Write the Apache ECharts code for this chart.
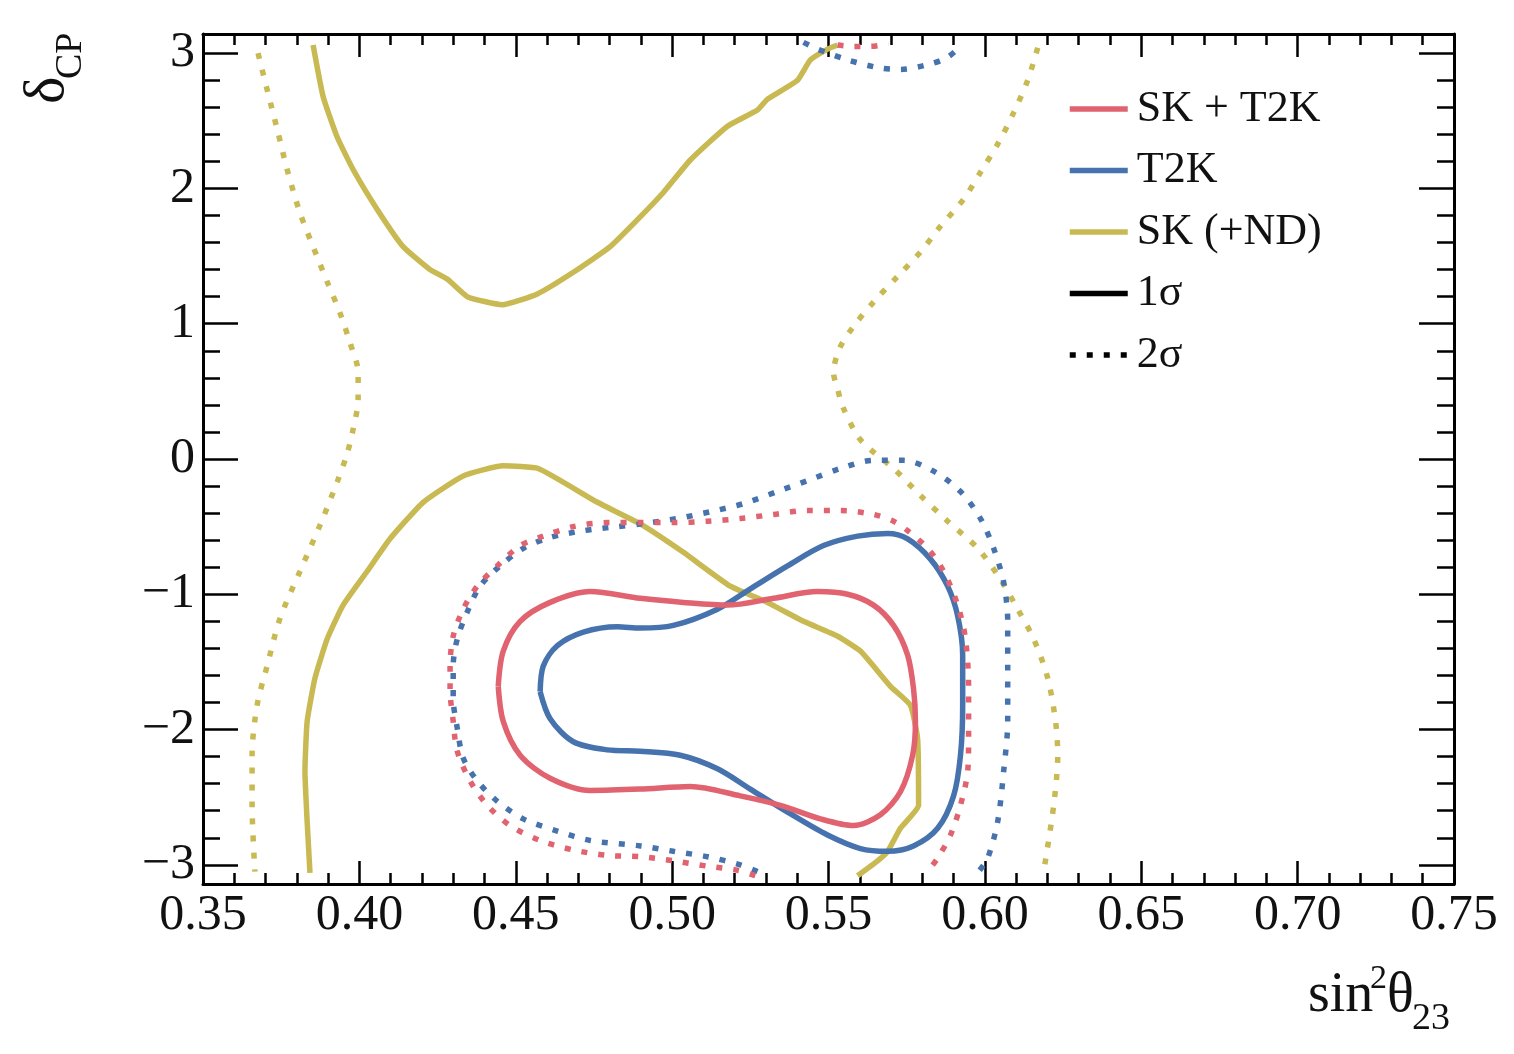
<!DOCTYPE html>
<html>
<head>
<meta charset="utf-8">
<script src="https://cdn.jsdelivr.net/npm/echarts@6/dist/echarts.min.js"></script>
<style>
  html, body { margin: 0; padding: 0; background: #fff; }
  #chart { width: 1514px; height: 1054px; }
</style>
</head>
<body>
<div id="chart"></div>
<script>
// axis ticks
var xTicks = [0.35, 0.40, 0.45, 0.50, 0.55, 0.60, 0.65, 0.70, 0.75];
var yTicks = [-3, -2, -1, 0, 1, 2, 3];

// contours, [sin^2 theta23, deltaCP]
// SK + T2K
var skt2k1 = [[0.4444,-1.68],[0.446,-1.42],[0.4514,-1.20],[0.461,-1.06],[0.4738,-0.98],[0.4898,-1.03],[0.5036,-1.06],[0.5177,-1.08],[0.5324,-1.03],[0.5465,-0.98],[0.5561,-1.00],[0.5644,-1.08],[0.5708,-1.23],[0.5753,-1.45],[0.5772,-1.70],[0.5778,-1.94],[0.5769,-2.19],[0.573,-2.46],[0.5666,-2.63],[0.558,-2.71],[0.5474,-2.66],[0.5346,-2.56],[0.5218,-2.49],[0.5058,-2.42],[0.4898,-2.44],[0.4738,-2.45],[0.461,-2.36],[0.4514,-2.19],[0.446,-1.94],[0.4444,-1.68]];
var skt2k2 = [[0.5266,-3.08],[0.5209,-3.04],[0.5113,-3.01],[0.5004,-2.97],[0.4898,-2.94],[0.4793,-2.93],[0.4684,-2.89],[0.4578,-2.82],[0.4482,-2.71],[0.4409,-2.56],[0.4354,-2.38],[0.4313,-2.16],[0.43,-1.94],[0.429,-1.70],[0.429,-1.53],[0.43,-1.31],[0.4332,-1.11],[0.4377,-0.94],[0.4441,-0.79],[0.4514,-0.64],[0.4588,-0.57],[0.4684,-0.50],[0.4793,-0.47],[0.4898,-0.47],[0.5004,-0.47],[0.5113,-0.46],[0.5218,-0.44],[0.5324,-0.41],[0.5433,-0.38],[0.5538,-0.38],[0.5644,-0.41],[0.5708,-0.46],[0.5753,-0.53],[0.5817,-0.66],[0.5868,-0.83],[0.5913,-1.08],[0.5938,-1.33],[0.5948,-1.70],[0.5948,-2.07],[0.5945,-2.31],[0.5922,-2.56],[0.589,-2.78],[0.5849,-2.95],[0.5817,-3.05]];
var skt2k2Top = [[0.5529,3.06],[0.558,3.05],[0.5634,3.05],[0.5692,3.07]];
// T2K
var t2k1 = [[0.4578,-1.72],[0.4588,-1.53],[0.4633,-1.38],[0.4716,-1.28],[0.4825,-1.24],[0.4898,-1.25],[0.5004,-1.23],[0.5145,-1.11],[0.525,-0.96],[0.5369,-0.79],[0.5484,-0.64],[0.5593,-0.57],[0.5689,-0.55],[0.5753,-0.59],[0.5826,-0.74],[0.5881,-0.94],[0.5913,-1.16],[0.5929,-1.45],[0.5929,-1.82],[0.5922,-2.19],[0.59,-2.49],[0.5849,-2.73],[0.5772,-2.86],[0.5689,-2.90],[0.5602,-2.88],[0.5497,-2.78],[0.5369,-2.61],[0.525,-2.44],[0.5145,-2.29],[0.5026,-2.19],[0.4898,-2.16],[0.4793,-2.15],[0.4684,-2.09],[0.461,-1.92],[0.4578,-1.72]];
var t2k2 = [[0.5273,-3.05],[0.5218,-3.00],[0.5113,-2.94],[0.5004,-2.90],[0.4898,-2.86],[0.4738,-2.82],[0.4633,-2.75],[0.4524,-2.66],[0.4441,-2.53],[0.4377,-2.38],[0.4332,-2.21],[0.4313,-1.99],[0.43,-1.77],[0.43,-1.53],[0.4313,-1.33],[0.4345,-1.13],[0.4386,-0.94],[0.445,-0.79],[0.4524,-0.66],[0.461,-0.58],[0.4716,-0.53],[0.4825,-0.50],[0.4898,-0.48],[0.5017,-0.44],[0.5122,-0.39],[0.5228,-0.33],[0.5337,-0.24],[0.5433,-0.16],[0.5538,-0.07],[0.5644,-0.01],[0.574,-0.01],[0.5836,-0.09],[0.5922,-0.24],[0.5986,-0.44],[0.6028,-0.66],[0.606,-0.91],[0.6073,-1.20],[0.6073,-1.57],[0.6073,-1.94],[0.606,-2.31],[0.6041,-2.68],[0.6009,-2.95],[0.598,-3.05]];
var t2k2Top = [[0.542,3.08],[0.5465,3.03],[0.5561,2.95],[0.5666,2.89],[0.573,2.88],[0.5826,2.92],[0.5881,2.97],[0.5922,3.05]];
// SK (+ND)
var sk1Upper = [[0.3852,3.06],[0.3884,2.68],[0.3929,2.38],[0.398,2.14],[0.4057,1.845],[0.414,1.57],[0.4226,1.40],[0.4281,1.33],[0.4345,1.20],[0.4457,1.14],[0.4569,1.22],[0.4684,1.38],[0.4802,1.57],[0.4898,1.79],[0.4972,1.97],[0.5058,2.21],[0.5177,2.46],[0.5273,2.58],[0.5305,2.66],[0.5401,2.80],[0.5442,2.95],[0.5497,3.03],[0.5529,3.06]];
var sk1Lower = [[0.3842,-3.06],[0.3833,-2.68],[0.3826,-2.31],[0.3833,-1.94],[0.3858,-1.62],[0.3897,-1.33],[0.3948,-1.08],[0.4025,-0.83],[0.4098,-0.59],[0.4204,-0.32],[0.4332,-0.125],[0.446,-0.05],[0.4572,-0.07],[0.4761,-0.32],[0.4898,-0.48],[0.5036,-0.69],[0.5186,-0.94],[0.5305,-1.06],[0.542,-1.20],[0.5529,-1.31],[0.5602,-1.42],[0.5698,-1.68],[0.5762,-1.82],[0.5785,-2.07],[0.5788,-2.56],[0.573,-2.73],[0.5689,-2.90],[0.5657,-2.97],[0.5593,-3.08]];
var sk2Left = [[0.3676,3.00],[0.3705,2.73],[0.3737,2.44],[0.3769,2.14],[0.381,1.82],[0.3852,1.57],[0.3897,1.31],[0.3938,1.08],[0.397,0.86],[0.3996,0.64],[0.3996,0.44],[0.398,0.22],[0.3961,0.04],[0.3929,-0.17],[0.3874,-0.49],[0.381,-0.83],[0.3746,-1.18],[0.3705,-1.53],[0.3673,-1.82],[0.3657,-2.19],[0.3657,-2.56],[0.3666,-3.05]];
var sk2Right = [[0.6169,3.04],[0.6137,2.80],[0.6092,2.56],[0.6044,2.34],[0.5986,2.12],[0.5932,1.92],[0.5858,1.72],[0.5794,1.53],[0.5721,1.35],[0.5644,1.16],[0.558,0.98],[0.5538,0.83],[0.5516,0.64],[0.5529,0.52],[0.5545,0.39],[0.5593,0.17],[0.5634,0.07],[0.5708,-0.07],[0.5794,-0.27],[0.5881,-0.46],[0.5977,-0.66],[0.605,-0.89],[0.6105,-1.11],[0.6156,-1.33],[0.6201,-1.62],[0.6226,-1.94],[0.6233,-2.19],[0.622,-2.56],[0.6188,-3.05]];

var legendNames = ['SK + T2K', 'T2K', 'SK (+ND)', '1\u03c3', '2\u03c3'];

var RED = '#e0636f', BLUE = '#4672ae', GOLD = '#c8b952';
var FONT = '"Liberation Serif", "DejaVu Serif", serif';
var DOTS = [6, 11];

var chart = echarts.init(document.getElementById('chart'));

// minor ticks on y, 0.2 apart between the integer ticks
var yMinor = [];
for (var i = 0; i < yTicks.length - 1; i++) {
    for (var k = 1; k < 5; k++) {
        yMinor.push(Math.round((yTicks[i] + k * 0.2) * 10) / 10);
    }
}

function fmtY(v) {
    return v < 0 ? '\u2212' + Math.abs(v) : String(v);
}

function xAxisOpt(pos, labels) {
    return {
        type: 'value', position: pos, min: xTicks[0], max: xTicks[xTicks.length - 1], interval: 0.05,
        axisLine: { onZero: false, lineStyle: { color: '#000', width: 3 } },
        axisTick: { inside: true, length: 23, lineStyle: { color: '#000', width: 2.5 } },
        minorTick: { show: true, splitNumber: 5, length: 11, lineStyle: { color: '#000', width: 2.5 } },
        axisLabel: {
            show: labels, margin: 7, fontFamily: FONT, fontSize: 50, color: '#111',
            formatter: function (v) { return v.toFixed(2); }
        },
        splitLine: { show: false }
    };
}

function yAxisOpt(pos, ticks, len, line, labels) {
    return {
        type: 'value', position: pos, min: -Math.PI, max: Math.PI,
        axisLine: { show: line, onZero: false, lineStyle: { color: '#000', width: 3 } },
        axisTick: { show: true, inside: true, length: len, customValues: ticks, lineStyle: { color: '#000', width: 2.5 } },
        axisLabel: {
            show: labels, customValues: yTicks, margin: 8, fontFamily: FONT, fontSize: 50, color: '#111',
            formatter: fmtY
        },
        splitLine: { show: false }
    };
}

function contour(name, data, color, dotted, smooth) {
    return {
        name: name, type: 'line', data: data, xAxisIndex: 0, yAxisIndex: 0,
        showSymbol: false, symbol: 'none', smooth: smooth, silent: true,
        lineStyle: { color: color, width: 5.5, type: dotted ? DOTS : 'solid', cap: 'butt' }
    };
}

function legendEntry(name, color, dotted) {
    return {
        name: name, type: 'line', data: [], symbol: 'none',
        lineStyle: { color: color, width: 5.5, type: dotted ? DOTS : 'solid', cap: 'butt' },
        itemStyle: { color: color }
    };
}

var option = {
    animation: false,
    backgroundColor: '#fff',
    grid: { left: 203, top: 34, right: 60, bottom: 170, containLabel: false },
    xAxis: [xAxisOpt('bottom', true), xAxisOpt('top', false)],
    yAxis: [
        yAxisOpt('left', yTicks, 35, true, true),
        yAxisOpt('left', yMinor, 17, false, false),
        yAxisOpt('right', yTicks, 35, true, false),
        yAxisOpt('right', yMinor, 17, false, false)
    ],
    legend: {
        data: legendNames, orient: 'vertical', left: 1062, top: 82,
        itemWidth: 58, itemHeight: 20, itemGap: 17.5,
        itemStyle: { opacity: 0 },
        lineStyle: { width: 5.5 },
        textStyle: { fontFamily: FONT, fontSize: 44, color: '#111', lineHeight: 44, padding: [0, 0, 0, 4] }
    },
    series: [
        contour('sk1u', sk1Upper, GOLD, false, 0.15),
        contour('sk1l', sk1Lower, GOLD, false, 0.15),
        contour('sk2l', sk2Left, GOLD, true, 0.3),
        contour('sk2r', sk2Right, GOLD, true, 0.3),
        contour('t2k1', t2k1, BLUE, false, 0.3),
        contour('t2k2', t2k2, BLUE, true, 0.3),
        contour('t2k2t', t2k2Top, BLUE, true, 0.3),
        contour('skt2k1', skt2k1, RED, false, 0.3),
        contour('skt2k2', skt2k2, RED, true, 0.3),
        contour('skt2k2t', skt2k2Top, RED, true, 0.3),
        legendEntry(legendNames[0], RED, false),
        legendEntry(legendNames[1], BLUE, false),
        legendEntry(legendNames[2], GOLD, false),
        legendEntry(legendNames[3], '#000', false),
        legendEntry(legendNames[4], '#000', true)
    ],
    graphic: [
        // y title: delta_CP, rotated
        { type: 'text', x: 48, y: 104, rotation: Math.PI / 2,
          style: { text: '\u03b4', font: '58px ' + FONT, fill: '#111', align: 'left', verticalAlign: 'middle' } },
        { type: 'text', x: 71, y: 79, rotation: Math.PI / 2,
          style: { text: 'CP', font: '38px ' + FONT, fill: '#111', align: 'left', verticalAlign: 'middle' } },
        // x title: sin^2 theta_23
        { type: 'text', x: 1308, y: 996,
          style: { text: 'sin', font: '56px ' + FONT, fill: '#111', align: 'left', verticalAlign: 'middle' } },
        { type: 'text', x: 1370, y: 979,
          style: { text: '2', font: '34px ' + FONT, fill: '#111', align: 'left', verticalAlign: 'middle' } },
        { type: 'text', x: 1387, y: 996,
          style: { text: '\u03b8', font: '56px ' + FONT, fill: '#111', align: 'left', verticalAlign: 'middle' } },
        { type: 'text', x: 1412, y: 1019,
          style: { text: '23', font: '38px ' + FONT, fill: '#111', align: 'left', verticalAlign: 'middle' } }
    ]
};

chart.setOption(option);
</script>
</body>
</html>
